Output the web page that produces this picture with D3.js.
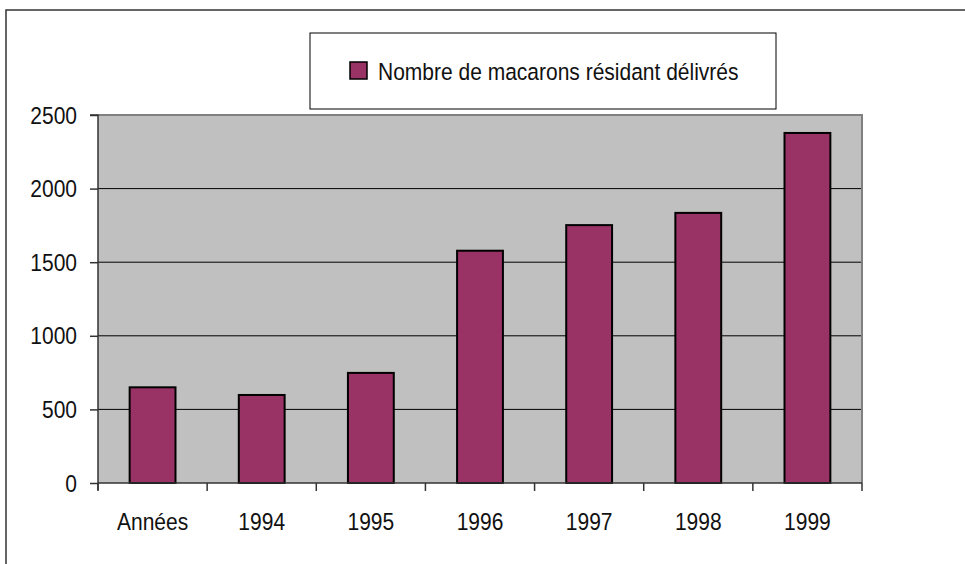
<!DOCTYPE html>
<html><head><meta charset="utf-8">
<script src="https://cdn.jsdelivr.net/npm/d3@7"></script>
<style>html,body{margin:0;padding:0;background:#fff;}svg{display:block;}text{font-family:Arial,"Liberation Sans",sans-serif;fill:#111;}</style>
</head><body>
<script>
const categories = ["Années","1994","1995","1996","1997","1998","1999"];
const values = [650, 598, 748, 1578, 1752, 1835, 2378];
const yTicks = [0, 500, 1000, 1500, 2000, 2500];
const seriesName = "Nombre de macarons résidant délivrés";

const W = 965, H = 564;
const svg = d3.select("body").append("svg").attr("width", W).attr("height", H);

// outer chart frame (cropped on right/bottom)
svg.append("path").attr("d", `M6,${H+5} L6,10 L${W+5},10`)
  .attr("fill","none").attr("stroke","#333").attr("stroke-width",1.5);

const plot = {l:98, t:115, r:862, b:483};
const x = d3.scaleBand().domain(categories).range([plot.l, plot.r]).paddingInner(0.58).paddingOuter(0.29);
const y = d3.scaleLinear().domain([0,2500]).range([plot.b, plot.t]);

// plot background
svg.append("rect").attr("x",plot.l).attr("y",plot.t).attr("width",plot.r-plot.l).attr("height",plot.b-plot.t)
  .attr("fill","#c0c0c0");
// gridlines
svg.append("g").selectAll("line").data(yTicks.filter(d=>d>0 && d<2500)).join("line")
  .attr("x1",plot.l).attr("x2",plot.r).attr("y1",d=>y(d)).attr("y2",d=>y(d))
  .attr("stroke","#000").attr("stroke-width",1);
// plot border top/right
svg.append("path").attr("d",`M${plot.l},${plot.t} L${plot.r},${plot.t} L${plot.r},${plot.b}`)
  .attr("fill","none").attr("stroke","#808080").attr("stroke-width",2);

// bars
svg.append("g").selectAll("rect").data(values).join("rect")
  .attr("x",(d,i)=>x(categories[i])).attr("width",x.bandwidth())
  .attr("y",d=>y(d)).attr("height",d=>y(0)-y(d))
  .attr("fill","#993366").attr("stroke","#000").attr("stroke-width",2);

// y axis
const yAxis = d3.axisLeft(y).tickValues(yTicks).tickSize(8).tickFormat("");
const gy = svg.append("g").attr("transform",`translate(${plot.l},0)`).call(yAxis);
gy.select(".domain").attr("stroke","#333").attr("stroke-width",1.5).attr("d",`M-8,${plot.t}H0V${plot.b+7}`);
gy.selectAll(".tick line").attr("stroke","#333").attr("stroke-width",1.5);

// x axis: ticks at category boundaries
const bounds = categories.map(c => x(c) - x.step()*x.paddingInner()/2 + 0).map((v,i)=> i===0 ? plot.l : v);
bounds.push(plot.r);
const gx = svg.append("g");
gx.append("line").attr("x1",plot.l).attr("x2",plot.r).attr("y1",plot.b).attr("y2",plot.b).attr("stroke","#333").attr("stroke-width",1.5);
gx.selectAll("line.t").data(bounds).join("line").attr("class","t")
  .attr("x1",d=>d).attr("x2",d=>d).attr("y1",plot.b).attr("y2",plot.b+8).attr("stroke","#333").attr("stroke-width",1.5);

const sy = 1.17, fs = 21;
// y labels
svg.append("g").selectAll("text").data(yTicks).join("text")
  .attr("transform",d=>`translate(77,${y(d)}) scale(1,${sy})`)
  .attr("text-anchor","end").attr("dy","0.35em").attr("font-size",fs).text(d=>d);
// x labels
svg.append("g").selectAll("text").data(categories).join("text")
  .attr("transform",d=>`translate(${x(d)+x.bandwidth()/2},521) scale(1,${sy})`)
  .attr("text-anchor","middle").attr("dy","0.35em").attr("font-size",fs).text(d=>d);

// legend
const lg = svg.append("g");
lg.append("rect").attr("x",310).attr("y",33).attr("width",466).attr("height",76)
  .attr("fill","#fff").attr("stroke","#000").attr("stroke-width",1);
lg.append("rect").attr("x",350).attr("y",62).attr("width",17).attr("height",17)
  .attr("fill","#993366").attr("stroke","#000").attr("stroke-width",1.5);
lg.append("text").attr("transform",`translate(378,71) scale(1,${sy})`).attr("dy","0.35em")
  .attr("font-size",fs).text(seriesName);
</script>
</body></html>
